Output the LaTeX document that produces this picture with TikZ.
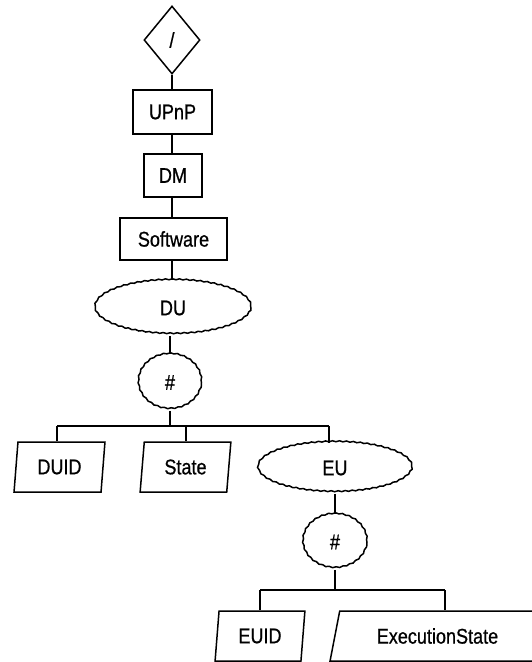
\documentclass[tikz,border=0pt]{standalone}
\usepackage{fontspec}
\setmainfont{Liberation Sans}[FakeBold=0.8]
\usetikzlibrary{shapes.geometric,decorations.pathmorphing}
% labels are set slightly tall and narrow
\newcommand{\nodetext}[1]{\scalebox{0.95}[1.12]{#1}}
\tikzset{
  every node/.style={font=\fontsize{19}{22}\selectfont, line width=1.5pt, inner sep=0pt},
  conn/.style={line width=1.5pt},
  box/.style={draw, rectangle},
  wavy/.style={draw, ellipse, decorate,
    decoration={snake, amplitude=0.5pt, segment length=7pt}},
  choice/.style={draw, diamond},
  leaf/.style={draw, trapezium, trapezium stretches=true},
}
\begin{document}
\begin{tikzpicture}[x=1pt, y=-1pt]
\useasboundingbox (0,0) rectangle (531,662);

% spine of the tree
\node[choice, minimum width=56pt, minimum height=68pt] (root) at (172,40) {\nodetext{/}};
\node[box, minimum width=79pt, minimum height=44pt] (upnp) at (172.5,112) {\nodetext{UPnP}};
\node[box, minimum width=58pt, minimum height=43pt] (dm) at (173,175.5) {\nodetext{DM}};
\node[box, minimum width=107pt, minimum height=42pt] (sw) at (173.5,239) {\nodetext{Software}};
\node[wavy, minimum width=156pt, minimum height=54pt] (du) at (173,308) {\nodetext{DU}};
\node[wavy, minimum width=63pt, minimum height=55pt] (hashA) at (170,382.5) {\nodetext{\#}};

% children of DU
\node[leaf, trapezium left angle=82, trapezium right angle=98,
      minimum width=91pt, minimum height=50pt] (duid) at (59.5,467) {\nodetext{DUID}};
\node[leaf, trapezium left angle=82, trapezium right angle=98,
      minimum width=91pt, minimum height=50pt] (state) at (185.5,467) {\nodetext{State}};
\node[wavy, minimum width=154pt, minimum height=50pt] (eu) at (335,468) {\nodetext{EU}};
\node[wavy, minimum width=64pt, minimum height=54pt] (hashB) at (335,542) {\nodetext{\#}};

% children of EU
\node[leaf, trapezium left angle=82, trapezium right angle=98,
      minimum width=90pt, minimum height=50pt] (euid) at (260,636) {\nodetext{EUID}};
\node[leaf, trapezium left angle=69, trapezium right angle=111,
      minimum width=215pt, minimum height=50pt] (exst) at (437.5,636) {\nodetext{ExecutionState}};

% bus junctions
\coordinate (busA) at (170,426);
\coordinate (busB) at (335,590);

% connectors
\draw[conn] (root.south) -- (upnp.north -| root.south);
\draw[conn] (upnp.south -| root.south) -- (dm.north -| root.south);
\draw[conn] (dm.south -| root.south) -- (sw.north -| root.south);
\draw[conn] (sw.south -| root.south) -- (du.north -| root.south);
\draw[conn] (du.south -| hashA.north) -- (hashA.north);
\draw[conn] (hashA.south) -- (busA);
\draw[conn] (busA -| 57,0) -- (busA -| 329,0);
\draw[conn] (busA -| 57,0) -- (duid.north -| 57,0);
\draw[conn] (busA -| 186,0) -- (state.north -| 186,0);
\draw[conn] (busA -| 329,0) -- ([yshift=-1pt]eu.north -| 329,0);

\draw[conn] (eu.south) -- (hashB.north);
\draw[conn] (hashB.south) -- (busB);
\draw[conn] (busB -| 260,0) -- (busB -| 445,0);
\draw[conn] (busB -| 260,0) -- (euid.north -| 260,0);
\draw[conn] (busB -| 445,0) -- (exst.north -| 445,0);
\end{tikzpicture}
\end{document}
